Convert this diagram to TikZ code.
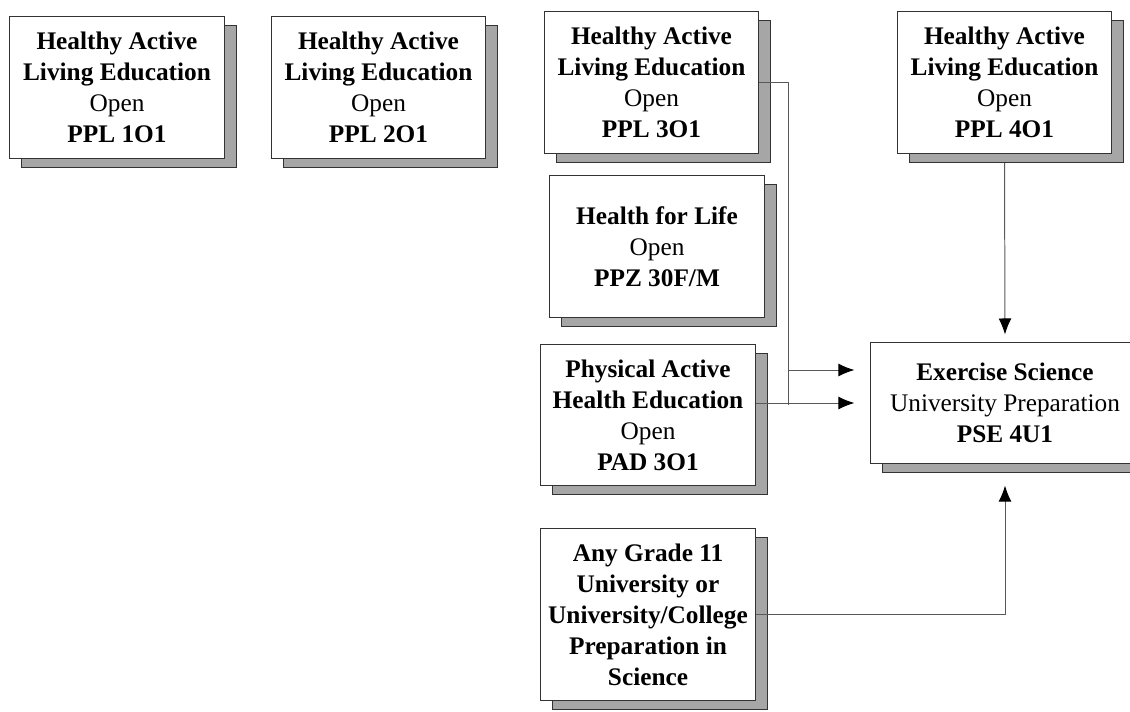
\documentclass[tikz,border=0pt]{standalone}
\usepackage{fontspec}
\setmainfont{Liberation Serif}
\usepackage{tikz}
\usetikzlibrary{shadows,arrows.meta,backgrounds}

\definecolor{shadowgray}{HTML}{A6A6A6}
\definecolor{edgegray}{HTML}{333333}

\tikzset{
  course/.style={draw=edgegray,line width=0.7pt,fill=white,align=center,
    minimum width=5.35cm,minimum height=3.525cm,inner sep=0pt,
    font=\fontsize{18}{22}\selectfont,
    drop shadow={shadow xshift=0.3cm,shadow yshift=-0.225cm,fill=shadowgray,
      draw=edgegray,opacity=1}},
  link/.style={draw=black!65,line width=0.7pt},
  tip/.style={-{Latex[length=0.4cm,width=0.32cm,color=black]}}
}

\begin{document}
\begin{tikzpicture}[x=0.025cm,y=-0.025cm]
  \useasboundingbox (0,0) rectangle (1130,711);
  \node (ppl1) at (117,87.5) [course] {\textbf{Healthy Active}\\\textbf{Living Education}\\Open\\\textbf{PPL 1O1}};
  \node (ppl2) at (378.5,87.5) [course] {\textbf{Healthy Active}\\\textbf{Living Education}\\Open\\\textbf{PPL 2O1}};
  \node (ppl3) at (651.5,82.5) [course] {\textbf{Healthy Active}\\\textbf{Living Education}\\Open\\\textbf{PPL 3O1}};
  \node (ppl4) at (1004.5,82.5) [course] {\textbf{Healthy Active}\\\textbf{Living Education}\\Open\\\textbf{PPL 4O1}};
  \node (ppz) at (657,246.5) [course] {\textbf{Health for Life}\\Open\\\textbf{PPZ 30F/M}};
  \node (pad) at (648,415) [course] {\textbf{Physical Active}\\\textbf{Health Education}\\Open\\\textbf{PAD 3O1}};
  \node (any) at (648,614.5) [course,minimum height=4.275cm] {\textbf{Any Grade 11}\\\textbf{University or}\\\textbf{University/College}\\\textbf{Preparation in}\\\textbf{Science}};
  \node (pse) at (1005,403) [course,minimum width=6.7cm,minimum height=3cm] {\textbf{Exercise Science}\\University Preparation\\\textbf{PSE 4U1}};
  \coordinate (bus) at (788,405);
  \coordinate (split) at (788,370);
  % connectors
  \draw [link] (ppl3.east) -| (bus);
  \draw [link,tip,shorten >=0.4cm] (split) -- (split -| pse.west);
  \draw [link,tip,shorten >=0.4cm] (pad.east |- pse.west) -- (pse.west);
  \draw [link,tip,shorten >=0.55cm] (any.east) -| (pse.south);
  \begin{scope}[on background layer]
    \draw [link,tip,shorten >=0.2cm] (ppl4.south) -- (pse.north);
  \end{scope}
\end{tikzpicture}
\end{document}
